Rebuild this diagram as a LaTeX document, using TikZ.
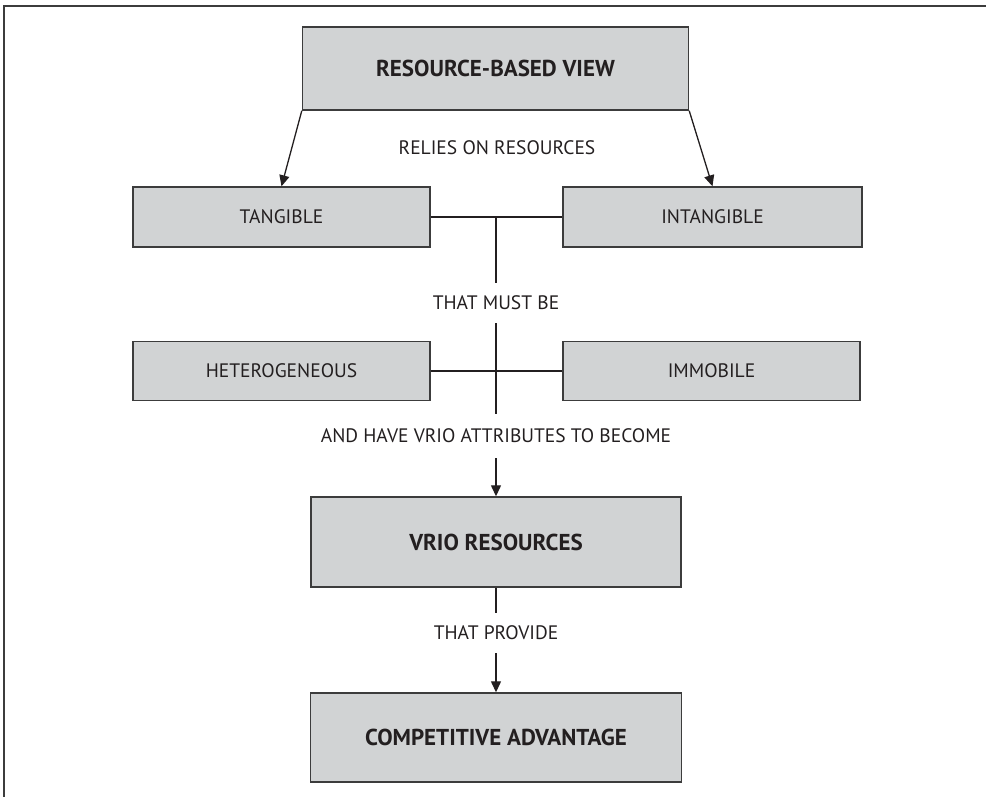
\documentclass[tikz,border=0pt]{standalone}
\usepackage{fontspec}
\setmainfont{PT Sans}
\usetikzlibrary{arrows.meta}
\definecolor{boxfill}{HTML}{D1D3D4}
\definecolor{ink}{HTML}{231F20}
\definecolor{edge}{HTML}{3C3C3C}
\tikzset{
  panel/.style={draw=edge, line width=1.4pt, fill=boxfill, inner sep=0pt, text=ink},
  sidebox/.style={panel, font=\fontsize{19.5}{22}\selectfont},
  mainbox/.style={panel, font=\fontsize{23}{26}\selectfont\bfseries},
  linklabel/.style={inner sep=0pt, text=ink, font=\fontsize{19.5}{22}\selectfont},
  link/.style={draw=ink, line width=1.3pt},
  arrowlink/.style={link, -{Triangle[length=11pt,width=10pt]}},
  frameline/.style={draw=edge, line width=2.2pt}
}
\begin{document}
\begin{tikzpicture}[x=1pt,y=-1pt]
  \useasboundingbox (0,0) rectangle (986,797);
  % cropped outer frame: only top and left edges remain
  \coordinate (fTL) at (4,6);
  \coordinate (fTR) at (990,6);
  \coordinate (fBL) at (4,800);
  \draw[frameline] (fTR) -- (fTL) -- (fBL);

  % boxes
  \node[mainbox, minimum width=386pt, minimum height=83pt] (rbv) at (495.5,68.5) {RESOURCE-BASED VIEW};
  \node[sidebox, minimum width=297pt, minimum height=60pt] (tang) at (281.5,217) {TANGIBLE};
  \node[sidebox, minimum width=299pt, minimum height=60pt] (intang) at (712.5,217) {INTANGIBLE};
  \node[sidebox, minimum width=297pt, minimum height=59pt] (het) at (281.5,371) {HETEROGENEOUS};
  \node[sidebox, minimum width=297pt, minimum height=59pt] (imm) at (711.5,371) {IMMOBILE};
  \node[mainbox, minimum width=370pt, minimum height=90pt] (vrio) at (496,542) {VRIO RESOURCES};
  \node[mainbox, minimum width=371pt, minimum height=89pt] (comp) at (496,737.5) {COMPETITIVE ADVANTAGE};

  % connector labels
  \node[linklabel] (relies) at (497,148) {RELIES ON RESOURCES};
  \node[linklabel, minimum height=40pt] (must) at (496,303) {THAT MUST BE};
  \node[linklabel, minimum height=44pt] (have) at (496,436) {AND HAVE VRIO ATTRIBUTES TO BECOME};
  \node[linklabel, minimum height=40pt] (provide) at (496,633) {THAT PROVIDE};

  % connectors
  \draw[arrowlink] (rbv.south west) -- (tang.north);
  \draw[arrowlink] (rbv.south east) -- (intang.north);
  \draw[link] (tang.east) -- (intang.west);
  \coordinate (split) at (496,217);
  \draw[link] (split) -- (must.north);
  \draw[link] (het.east) -- (imm.west);
  \draw[link] (must.south) -- (have.north);
  \draw[arrowlink] (have.south) -- (vrio.north);
  \draw[link] (vrio.south) -- (provide.north);
  \draw[arrowlink] (provide.south) -- (comp.north);
\end{tikzpicture}
\end{document}
